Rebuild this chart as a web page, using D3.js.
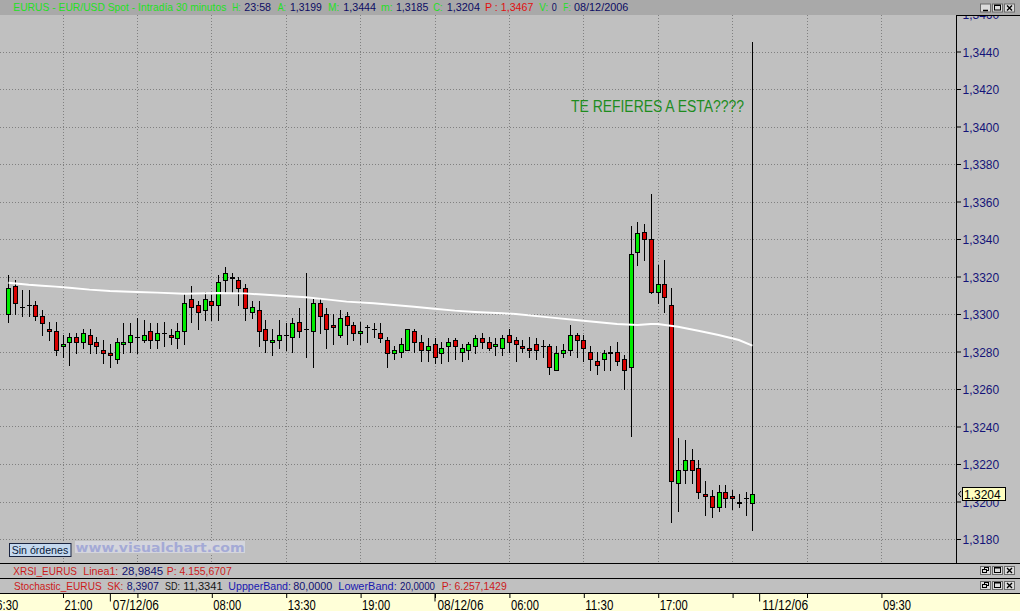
<!DOCTYPE html>
<html><head><meta charset="utf-8">
<script src="https://cdn.jsdelivr.net/npm/d3@7"></script>
<style>
html,body{margin:0;padding:0;background:#c0c0c0;overflow:hidden}
svg{display:block;font-family:"Liberation Sans",Arial,sans-serif}
</style></head><body>
<svg id="c" width="1020" height="611"></svg>
<script>
// ---- DATA (EUR/USD 30-minute candles) ----
const openP = [1.3300,1.3315,1.3304,1.3305,1.3305,1.3299,1.3292,1.3291,1.3283,1.3285,1.3288,1.3285,1.3289,1.3285,1.3281,1.3279,1.3276,1.3284,1.3285,1.3288,1.3286,1.3291,1.3286,1.3290,1.3289,1.3287,1.3291,1.3308,1.3305,1.3302,1.3307,1.3305,1.3318,1.3320,1.3318,1.3314,1.3301,1.3302,1.3292,1.3285,1.3286,1.3289,1.3288,1.3296,1.3292,1.3291,1.3306,1.3300,1.3294,1.3289,1.3299,1.3294,1.3290,1.3293,1.3292,1.3290,1.3286,1.3279,1.3280,1.3281,1.3291,1.3285,1.3281,1.3284,1.3279,1.3283,1.3286,1.3280,1.3281,1.3283,1.3287,1.3285,1.3283,1.3282,1.3289,1.3286,1.3283,1.3282,1.3284,1.3283,1.3283,1.3270,1.3279,1.3281,1.3289,1.3286,1.3280,1.3275,1.3276,1.3280,1.3280,1.3276,1.3272,1.3333,1.3344,1.3340,1.3312,1.3316,1.3305,1.3210,1.3217,1.3222,1.3218,1.3204,1.3203,1.3197,1.3205,1.3203,1.3200,1.3202,1.3199];
const highP = [1.3321,1.3318,1.3313,1.3313,1.3307,1.3302,1.3296,1.3296,1.3289,1.3290,1.3290,1.3292,1.3292,1.3288,1.3286,1.3284,1.3287,1.3295,1.3295,1.3298,1.3297,1.3295,1.3295,1.3296,1.3292,1.3295,1.3311,1.3315,1.3307,1.3312,1.3310,1.3321,1.3325,1.3322,1.3320,1.3316,1.3307,1.3307,1.3297,1.3292,1.3297,1.3295,1.3298,1.3303,1.3322,1.3308,1.3308,1.3303,1.3300,1.3302,1.3301,1.3296,1.3296,1.3294,1.3295,1.3295,1.3288,1.3283,1.3287,1.3292,1.3292,1.3289,1.3287,1.3287,1.3285,1.3287,1.3287,1.3284,1.3285,1.3289,1.3290,1.3288,1.3287,1.3289,1.3292,1.3288,1.3286,1.3288,1.3287,1.3286,1.3284,1.3283,1.3284,1.3294,1.3290,1.3289,1.3283,1.3280,1.3281,1.3283,1.3285,1.3278,1.3347,1.3349,1.3348,1.3364,1.3326,1.3329,1.3314,1.3234,1.3233,1.3228,1.3222,1.3211,1.3206,1.3209,1.3209,1.3206,1.3204,1.3205,1.3445];
const lowP = [1.3296,1.3300,1.3299,1.3299,1.3297,1.3289,1.3286,1.3278,1.3277,1.3273,1.3279,1.3282,1.3279,1.3279,1.3274,1.3272,1.3274,1.3279,1.3280,1.3279,1.3285,1.3282,1.3282,1.3283,1.3284,1.3282,1.3284,1.3296,1.3292,1.3297,1.3297,1.3297,1.3312,1.3312,1.3305,1.3297,1.3298,1.3283,1.3280,1.3278,1.3282,1.3281,1.3280,1.3288,1.3277,1.3272,1.3290,1.3282,1.3284,1.3288,1.3284,1.3286,1.3284,1.3285,1.3288,1.3285,1.3272,1.3276,1.3277,1.3281,1.3280,1.3275,1.3275,1.3274,1.3274,1.3275,1.3276,1.3275,1.3276,1.3279,1.3282,1.3281,1.3278,1.3278,1.3280,1.3275,1.3280,1.3277,1.3276,1.3277,1.3268,1.3270,1.3277,1.3278,1.3277,1.3275,1.3270,1.3268,1.3270,1.3270,1.3273,1.3260,1.3235,1.3326,1.3329,1.3311,1.3306,1.3301,1.3189,1.3195,1.3210,1.3210,1.3202,1.3193,1.3192,1.3195,1.3197,1.3196,1.3197,1.3193,1.3185];
const closeP = [1.3314,1.3306,1.3304,1.3305,1.3299,1.3295,1.3291,1.3281,1.3284,1.3288,1.3285,1.3290,1.3284,1.3283,1.3279,1.3278,1.3285,1.3285,1.3289,1.3288,1.3289,1.3286,1.3290,1.3290,1.3288,1.3291,1.3306,1.3304,1.3301,1.3308,1.3305,1.3317,1.3322,1.3319,1.3314,1.3303,1.3304,1.3291,1.3286,1.3286,1.3289,1.3289,1.3295,1.3291,1.3292,1.3306,1.3299,1.3292,1.3293,1.3298,1.3294,1.3290,1.3291,1.3293,1.3292,1.3287,1.3279,1.3281,1.3284,1.3292,1.3285,1.3281,1.3283,1.3277,1.3282,1.3285,1.3283,1.3282,1.3284,1.3287,1.3285,1.3282,1.3284,1.3287,1.3285,1.3284,1.3282,1.3281,1.3281,1.3283,1.3272,1.3279,1.3281,1.3289,1.3286,1.3282,1.3276,1.3273,1.3279,1.3279,1.3275,1.3270,1.3332,1.3343,1.3340,1.3312,1.3316,1.3309,1.3211,1.3217,1.3222,1.3217,1.3205,1.3203,1.3197,1.3205,1.3202,1.3202,1.3199,1.3202,1.3204];
// moving average (white line), sampled at candle indices
const maIdx = [0,3,5,7,9,12,15,19,22,26,31,35,37,41,44,47,50,54,57,60,63,66,69,73,75,80,85,90,93,95,96,99,102,105,108,110];
const maVal = [1.33167,1.33156,1.33151,1.33146,1.3314,1.3313,1.33123,1.33117,1.33114,1.33108,1.33112,1.3311,1.33105,1.33096,1.33089,1.33078,1.33066,1.33057,1.33048,1.33039,1.33028,1.33018,1.33011,1.33004,1.3300,1.32982,1.32964,1.32947,1.32941,1.32947,1.32947,1.32932,1.32911,1.32888,1.32861,1.32831];
// axis ticks
const yTicks = [1.318,1.320,1.322,1.324,1.326,1.328,1.330,1.332,1.334,1.336,1.338,1.340,1.342,1.344,1.346];
const xTickIdx = [-3,8,19,30,41,52,63,74,85,96,107,118,129];
const xTickLabel = ["16:30","21:00","","08:00","13:30","19:00","","06:00","11:30","17:00","","","09:30"];
const dateIdx = [15,63,111];
const dateLabel = ["07/12/06","08/12/06","11/12/06"];
const lastPrice = 1.3204;

// ---- DRAW ----
const svg = d3.select("#c");
const W = 1020, H = 611, plotR = 956, plotT = 15, plotB = 563;
const x = d3.scaleLinear().domain([0,110]).range([8.4, 752.4]);
const y = d3.scaleLinear().domain([1.318,1.344]).range([539,51.5]);
const GREEN = "#00ec00", RED = "#d80000";

svg.append("rect").attr("width",W).attr("height",H).attr("fill","#c0c0c0");
svg.append("clipPath").attr("id","clip").append("rect")
  .attr("x",0).attr("y",plotT).attr("width",plotR).attr("height",plotB-plotT);

const grid = svg.append("g").attr("clip-path","url(#clip)")
  .attr("stroke","#808080").attr("stroke-dasharray","1,2");
grid.selectAll("line.h").data(yTicks).join("line")
  .attr("x1",0).attr("x2",plotR)
  .attr("y1",d=>Math.round(y(d))+0.5).attr("y2",d=>Math.round(y(d))+0.5);
grid.selectAll("line.v").data(xTickIdx).join("line")
  .attr("y1",plotT).attr("y2",plotB)
  .attr("x1",d=>Math.round(x(d))+0.5).attr("x2",d=>Math.round(x(d))+0.5);

const candles = openP.map((o,i)=>({i,o,h:highP[i],l:lowP[i],c:closeP[i]}));
const cg = svg.append("g").attr("clip-path","url(#clip)");
const cx = d => Math.round(x(d.i));
cg.selectAll("line.wick").data(candles).join("line")
  .attr("x1",d=>cx(d)+0.5).attr("x2",d=>cx(d)+0.5)
  .attr("y1",d=>Math.round(y(d.h))).attr("y2",d=>Math.round(y(d.l))+1)
  .attr("stroke","#000");
cg.selectAll("rect.body").data(candles.filter(d=>d.o!==d.c)).join("rect")
  .attr("x",d=>cx(d)-1.5)
  .attr("y",d=>Math.round(y(Math.max(d.o,d.c)))+0.5)
  .attr("width",4)
  .attr("height",d=>Math.max(1,Math.round(y(Math.min(d.o,d.c)))-Math.round(y(Math.max(d.o,d.c)))))
  .attr("fill",d=>d.c>d.o?GREEN:RED).attr("stroke","#000");
cg.selectAll("line.doji").data(candles.filter(d=>d.o===d.c)).join("line")
  .attr("x1",d=>cx(d)-2).attr("x2",d=>cx(d)+3)
  .attr("y1",d=>Math.round(y(d.o))+0.5).attr("y2",d=>Math.round(y(d.o))+0.5)
  .attr("stroke","#000");

const maData = maIdx.map((i,k)=>({i,v:maVal[k]}));
cg.append("path").datum(maData)
  .attr("d",d3.line().x(d=>x(d.i)).y(d=>y(d.v)))
  .attr("fill","none").attr("stroke","#fff").attr("stroke-width",2);

svg.append("text").attr("x",571).attr("y",111.5)
  .attr("font-size",16).attr("fill","#1e8c1e")
  .attr("textLength",173).attr("lengthAdjust","spacingAndGlyphs")
  .text("TE REFIERES A ESTA????");

// "Sin órdenes" box and watermark
svg.append("rect").attr("x",9.5).attr("y",543.5).attr("width",61.5).attr("height",13)
  .attr("fill","#c4d8ee").attr("stroke","#1a2440");
svg.append("text").attr("x",11.7).attr("y",553.5).attr("font-size",11).attr("fill","#0a1a3a")
  .attr("textLength",56.5).attr("lengthAdjust","spacingAndGlyphs").text("Sin órdenes");
svg.append("rect").attr("x",75).attr("y",541).attr("width",170).attr("height",12)
  .attr("fill","#d4d5dc");
svg.append("text").attr("x",75.5).attr("y",552).attr("font-size",13).attr("font-weight","bold")
  .attr("font-family","DejaVu Sans, sans-serif").attr("fill","#a4aad6")
  .attr("textLength",169).attr("lengthAdjust","spacingAndGlyphs").text("www.visualchart.com");

// right price axis
const ya = svg.append("g").attr("transform",`translate(957,0)`)
  .call(d3.axisRight(y).tickValues(yTicks).tickSize(4).tickPadding(1.5)
    .tickFormat(d=>d.toFixed(4).replace(".",",")));
ya.select(".domain").remove();
ya.selectAll("line").attr("stroke","#000");
ya.selectAll("text").attr("font-size",12).attr("font-family","Liberation Sans, Arial, sans-serif")
  .attr("fill","#141478").attr("dy","0.38em");
svg.append("line").attr("x1",956.5).attr("x2",956.5).attr("y1",plotT).attr("y2",plotB).attr("stroke","#000");
svg.append("line").attr("x1",956).attr("x2",W).attr("y1",15.5).attr("y2",15.5).attr("stroke","#000");

// last price label
const ly = Math.round(y(lastPrice));
svg.append("rect").attr("x",962.5).attr("y",ly-6.5).attr("width",43).attr("height",13)
  .attr("fill","#ffffc0").attr("stroke","#000");
svg.append("text").attr("x",964).attr("y",ly+4.5).attr("font-size",12).attr("fill","#000")
  .text(lastPrice.toFixed(4).replace(".",","));
svg.append("path").attr("d",`M961,${ly-3} L958.5,${ly} L961,${ly+3}`).attr("fill","none").attr("stroke","#000");

// title bar
svg.append("rect").attr("x",0).attr("y",0).attr("width",W).attr("height",15).attr("fill","#a9a9a9");
const TG="#22e022", TN="#0c0c64", TR="#e01010";
const titleParts = [
  ["EURUS - EUR/USD Spot - Intradía 30 minutos",13.3,213,TG],
  ["H:",232.3,8.4,TG],["23:58",244.3,26.7,TN],
  ["A:",277.7,8.3,TG],["1,3199",290,31.7,TN],
  ["M:",328.3,11,TG],["1,3444",343.3,32.7,TN],
  ["m:",381,11.7,TG],["1,3185",396,32.3,TN],
  ["C:",433.3,9.4,TG],["1,3204",446.7,33.3,TN],
  ["P : 1,3467",485,48.3,TR],
  ["V:",539.3,9,TG],["0",551.7,5,TN],
  ["F:",563.3,7.4,TG],["08/12/2006",574,54.3,TN]];
svg.append("g").selectAll("text").data(titleParts).join("text")
  .attr("x",d=>d[1]).attr("y",11.4).attr("font-size",10.5).attr("fill",d=>d[3])
  .attr("textLength",d=>d[2]).attr("lengthAdjust","spacingAndGlyphs").text(d=>d[0]);

function buttons(y0, first){
  const g = svg.append("g");
  [980,992,1004].forEach((bx,k)=>{
    g.append("rect").attr("x",bx+0.5).attr("y",y0+0.5).attr("width",10).attr("height",8)
      .attr("fill","#dcdcdc").attr("stroke","#6a6a6a");
    if(k===0 && first==="min"){
      g.append("line").attr("x1",bx+3).attr("x2",bx+8).attr("y1",y0+7).attr("y2",y0+7).attr("stroke","#000").attr("stroke-width",1.5);
    } else if(k===0){
      g.append("rect").attr("x",bx+4.5).attr("y",y0+1.5).attr("width",4).attr("height",3).attr("fill","none").attr("stroke","#000");
      g.append("rect").attr("x",bx+2.5).attr("y",y0+3.5).attr("width",4).attr("height",3).attr("fill","#dcdcdc").attr("stroke","#000");
    } else if(k===1){
      g.append("rect").attr("x",bx+2.5).attr("y",y0+1.5).attr("width",6).attr("height",5).attr("fill","none").attr("stroke","#000");
      g.append("line").attr("x1",bx+2.5).attr("x2",bx+8.5).attr("y1",y0+2).attr("y2",y0+2).attr("stroke","#000");
    } else {
      g.append("path").attr("d",`M${bx+3},${y0+2} L${bx+8},${y0+7} M${bx+8},${y0+2} L${bx+3},${y0+7}`)
        .attr("stroke","#000").attr("stroke-width",1.4);
    }
  });
}
buttons(3.5,"min");

// indicator panel headers
svg.append("rect").attr("x",0).attr("y",563).attr("width",W).attr("height",30).attr("fill","#c0c0c0");
[563.5,578.5,593.5].forEach(v=>svg.append("line").attr("x1",0).attr("x2",W).attr("y1",v).attr("y2",v).attr("stroke","#000"));
const PR="#cc1a1a", PN="#101070", PB="#1818b0", PK="#151515";
const rsiParts = [["XRSI_EURUS",13.3,63.7,PR],["Linea1:",83.3,35,PR],["28,9845",121.7,41.6,PN],["P: 4.155,6707",166.7,65,PR]];
const stoParts = [["Stochastic_EURUS",14,87.7,PR],["SK:",107.3,16,PR],["8,3907",126.7,32.3,PN],["SD:",165,15,PK],["11,3341",183.3,39.4,PK],
  ["UppperBand:",228.3,62.7,PB],["80,0000",293.3,39,PN],["LowerBand:",338.3,58.4,PB],["20,0000",400,35,PN],["P: 6.257,1429",441.7,65,PR]];
[[rsiParts,574.6],[stoParts,589.6]].forEach(([parts,by])=>{
  svg.append("g").selectAll("text").data(parts).join("text")
    .attr("x",d=>d[1]).attr("y",by).attr("font-size",10.5).attr("fill",d=>d[3])
    .attr("textLength",d=>d[2]).attr("lengthAdjust","spacingAndGlyphs").text(d=>d[0]);
});
buttons(566,"restore");
buttons(581,"restore");

// time axis
svg.append("rect").attr("x",0).attr("y",594).attr("width",W).attr("height",17).attr("fill","#ffffd8");
const xa = svg.append("g").attr("transform","translate(0,593)")
  .call(d3.axisBottom(x).tickValues(xTickIdx).tickSize(5).tickFormat((d,k)=>xTickLabel[k]));
xa.selectAll(".tick line").attr("transform","translate(0.5,0)");
const xd = svg.append("g").attr("transform","translate(0,593)")
  .call(d3.axisBottom(x).tickValues(dateIdx).tickSize(8.5).tickFormat((d,k)=>dateLabel[k]));
[xa,xd].forEach(a=>{
  a.select(".domain").remove();
  a.selectAll("line").attr("stroke","#000");
  a.selectAll("text").attr("fill","#000").attr("font-size",14)
    .attr("font-family","Liberation Sans, Arial, sans-serif")
    .attr("text-anchor","start").attr("dy",null).attr("y",17);
});
xa.selectAll("text").attr("x",1.5).each(function(){const t=d3.select(this).text(); if(t) d3.select(this).attr("textLength",28).attr("lengthAdjust","spacingAndGlyphs");});
xd.selectAll("text").attr("x",2.5).attr("textLength",46).attr("lengthAdjust","spacingAndGlyphs");
</script>
</body></html>
